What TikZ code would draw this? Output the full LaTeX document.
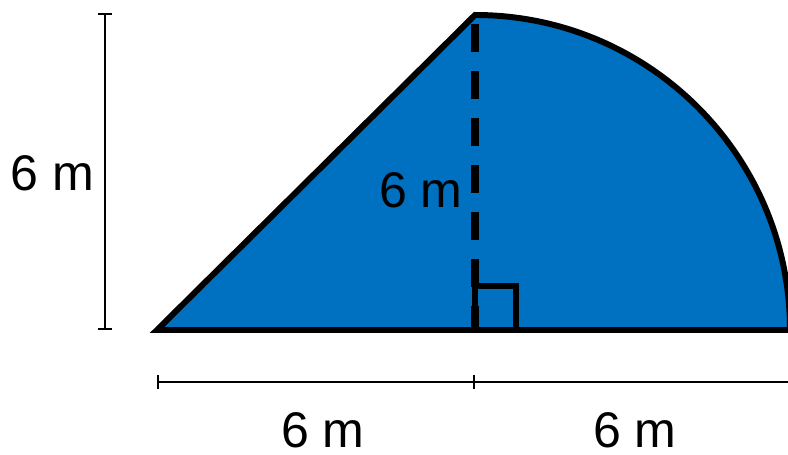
\documentclass[tikz,border=0pt]{standalone}
\usepackage{fontspec}
\setmainfont{Liberation Sans}
\usetikzlibrary{positioning}
\definecolor{shapeblue}{RGB}{0,112,192}

\begin{document}
\begin{tikzpicture}[x=0.02cm,y=0.02cm,
   outline/.style={line width=3.4pt},
   dimline/.style={line width=1.1pt},
   lbl/.style={inner sep=0pt,font=\fontsize{28.5}{30}\selectfont}]
   \useasboundingbox (0,0) rectangle (788,455);
   \coordinate (A) at (157,125);
   \coordinate (B) at (475,125);
   \coordinate (C) at (475,440);
   \coordinate (R2) at (516,169);
   \coordinate (R3) at (516,125);
   % the shape
   \filldraw[outline,fill=shapeblue] (A) -- (C) arc[start angle=90,end angle=0,radius=315] -- cycle;
   \draw[line width=4pt,dash pattern=on 15.9pt off 10.8pt,dash phase=21.5pt] (C) -- (B);
   \draw[line width=3pt] (B) |- (R2) -- (R3);
   \node[lbl,anchor=east] (h) at (463,265) {6 m};
   % dimensions
   \coordinate (V1) at (105,442);
   \coordinate (V2) at (105,125);
   \coordinate (H1) at (157,73);
   \coordinate (H2) at (475,73);
   \coordinate (H3) at (790,73);
   \draw[dimline,|-|] (V1) -- node[lbl,left=0.2cm,yshift=-1.5*0.02cm] (vl) {6 m} (V2);
   \draw[dimline,|-|] (H1) -- node[lbl,below=0.6cm,xshift=7*0.02cm] (wl) {6 m} (H2);
   \draw[dimline] (H2) -- node[lbl,below=0.6cm,xshift=2.5*0.02cm] (wr) {6 m} (H3);
\end{tikzpicture}
\end{document}
